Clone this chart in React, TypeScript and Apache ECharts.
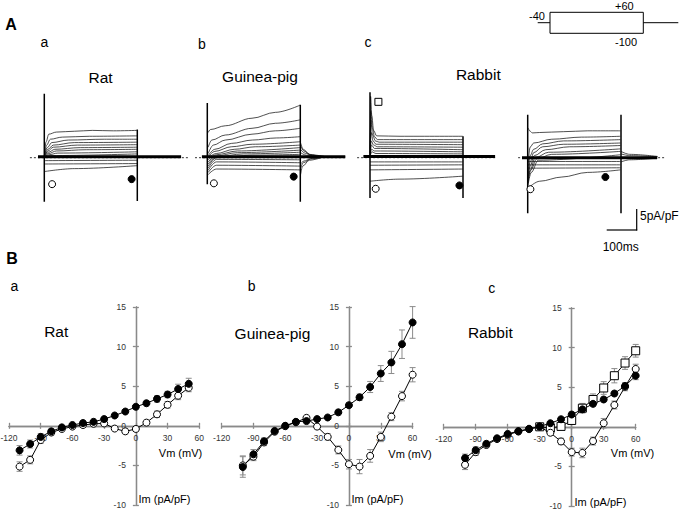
import React, { useEffect, useRef } from 'react';
import * as echarts from 'echarts';

const FONT = '"Liberation Sans", Arial, Helvetica, sans-serif';

// ---------- Panel B: I-V relations (Vm in mV, Im in pA/pF) ----------
const vmTickLabels = [-120, -90, -60, -30, 0, 30, 60];
const imTickLabels = [-10, -5, 0, 5, 10, 15];

const vmRat = [-110, -100, -90, -80, -70, -60, -50, -40, -30, -20, -10, 0, 10, 20, 30, 40, 50];
const ratClosed = [-3.1, -2.3, -1.4, -0.7, -0.2, 0.1, 0.35, 0.5, 0.85, 1.3, 1.8, 2.4, 2.85, 3.4, 3.95, 4.65, 5.3];
const ratClosedErr = [0.6, 0.5, 0.4, 0.3, 0.2, 0.2, 0.2, 0.2, 0.2, 0.2, 0.2, 0.3, 0.3, 0.4, 0.4, 0.6, 0.7];
const ratOpen = [-5.15, -4.3, -1.8, -0.85, -0.4, -0.1, 0.1, 0.25, 0.3, -0.35, -0.7, -0.4, 0.4, 1.45, 2.65, 3.8, 4.8];
const ratOpenErr = [0.6, 0.5, 0.4, 0.3, 0.2, 0.2, 0.2, 0.2, 0.2, 0.2, 0.3, 0.3, 0.3, 0.4, 0.4, 0.5, 0.5];

const vmGp = [-100, -90, -80, -70, -60, -50, -40, -30, -20, -10, 0, 10, 20, 30, 40, 50, 60];
const gpClosed = [-5.2, -3.6, -1.95, -0.65, 0.0, 0.5, 0.6, 0.85, 1.05, 1.7, 2.6, 3.6, 4.9, 6.6, 8.0, 10.3, 13.05];
const gpClosedErr = [1.3, 0.6, 0.4, 0.3, 0.3, 0.3, 0.3, 0.2, 0.2, 0.3, 0.3, 0.4, 0.7, 1.0, 1.4, 1.8, 2.0];
const gpOpen = [-5.0, -3.9, -2.1, -0.75, -0.05, 0.45, 1.0, -0.1, -1.4, -3.05, -4.85, -5.15, -3.8, -1.4, 1.15, 3.75, 6.45];
const gpOpenErr = [1.2, 0.5, 0.4, 0.3, 0.3, 0.3, 0.3, 0.3, 0.4, 0.5, 0.6, 0.9, 0.8, 0.6, 0.5, 0.6, 0.9];

const vmRb = [-100, -90, -80, -70, -60, -50, -40, -30, -20, -10, 0, 10, 20, 30, 40, 50, 60];
const rbClosed = [-3.95, -2.95, -2.15, -1.45, -0.9, -0.55, -0.25, 0.05, 0.45, 0.95, 1.55, 2.2, 2.9, 3.45, 4.2, 5.15, 6.45];
const rbClosedErr = [0.5, 0.4, 0.3, 0.2, 0.2, 0.2, 0.2, 0.2, 0.2, 0.2, 0.3, 0.3, 0.3, 0.3, 0.3, 0.4, 0.5];
const rbOpen = [-4.8, -3.2, -2.3, -1.55, -1.0, -0.6, -0.3, 0.0, -0.75, -1.85, -3.2, -3.3, -1.8, 0.45, 2.75, 5.05, 7.3];
const rbOpenErr = [0.6, 0.4, 0.3, 0.2, 0.2, 0.2, 0.2, 0.2, 0.3, 0.4, 0.5, 0.6, 0.5, 0.6, 0.5, 0.5, 0.6];
const vmRbSq = [-30, -20, -10, 0, 10, 20, 30, 40, 50, 60];
const rbSquare = [0.0, -0.15, 0.05, 0.8, 2.35, 3.45, 4.9, 6.45, 8.05, 9.6];
const rbSquareErr = [0.2, 0.2, 0.2, 0.3, 0.6, 0.7, 0.8, 0.9, 0.8, 0.8];

// ---------- Panel A: current traces ([time ms, current pA/pF]) ----------
const ratTraces = [
  [[0, 0.4], [6, 3.8], [15, 5.6], [40, 6.1], [100, 6.3], [160, 6.5], [230, 6.4], [309, 6.5]],
  [[0, 0.3], [8, 3.0], [20, 4.4], [60, 4.9], [150, 5.1], [309, 5.2]],
  [[0, 0.3], [10, 2.4], [25, 3.6], [80, 4.2], [200, 4.4], [309, 4.4]],
  [[0, 0.2], [12, 2.0], [30, 3.0], [100, 3.6], [309, 3.7]],
  [[0, 0.2], [12, 1.6], [30, 2.5], [110, 3.0], [309, 3.1]],
  [[0, 0.2], [14, 1.3], [35, 2.0], [120, 2.4], [309, 2.5]],
  [[0, 0.1], [15, 1.0], [40, 1.6], [140, 1.9], [309, 2.0]],
  [[0, 0.1], [15, 0.7], [45, 1.1], [309, 1.4]],
  [[0, 0.1], [20, 0.5], [309, 0.9]],
  [[0, -0.7], [309, -0.6]],
  [[0, -1.5], [309, -1.4]],
  [[0, -3.3], [100, -2.6], [309, -1.9]],
];
const ratBand = [[-21, 0.2], [456, 0.2]];
const ratOn = [[0, 15.2], [0, -10.5]];
const ratOff = [[310, 6.7], [310, -10.3]];
const ratOpenMark = [[26, -6.3]];
const ratClosedMark = [[291, -5.1]];

const gpTraces = [
  [[3, 6.0], [10, 6.7], [60, 7.6], [149, 9.4], [227, 10.8], [309, 12.5]],
  [[3, 2.5], [15, 4.2], [60, 5.4], [149, 7.0], [227, 8.2], [309, 9.0]],
  [[3, 1.0], [20, 3.0], [60, 4.2], [149, 5.6], [227, 6.4], [309, 7.0]],
  [[3, 0.5], [25, 2.0], [80, 3.4], [150, 4.2], [230, 4.7], [309, 5.0]],
  [[3, 0.2], [25, 1.5], [80, 2.6], [150, 3.2], [309, 3.8]],
  [[3, 0.0], [30, 1.0], [90, 2.0], [160, 2.6], [309, 3.0]],
  [[3, -0.5], [30, 0.7], [100, 1.6], [309, 2.4]],
  [[3, -1.0], [30, 0.4], [100, 1.2], [309, 1.8]],
  [[3, -1.5], [30, 0.2], [120, 0.9], [309, 1.3]],
  [[3, -2.0], [30, 0.0], [150, 0.6], [309, 0.8]],
  [[3, -2.5], [30, -0.4], [309, -0.5]],
  [[3, -3.0], [30, -1.0], [309, -1.2]],
  [[3, -3.5], [30, -1.8], [309, -2.0]],
  [[3, -4.0], [30, -2.7], [309, -2.9]],
];
const gpTails = [
  [[311, 3.5], [320, 2.0], [340, 0.8], [380, 0.3], [460, 0.2]],
  [[311, 2.8], [322, 1.6], [345, 0.7], [390, 0.3]],
  [[311, 2.0], [325, 1.1], [350, 0.5], [400, 0.2]],
  [[311, 1.2], [330, 0.6], [370, 0.2]],
  [[311, -1.5], [322, -0.8], [345, -0.2], [380, 0.1]],
  [[311, -2.5], [320, -1.2], [345, -0.3], [380, 0.1]],
  [[311, -4.0], [318, -2.0], [340, -0.6], [380, 0.0]],
];
const gpBand = [[-18, 0.2], [460, 0.2]];
const gpOn = [[0, 13.0], [0, -6.3]];
const gpOff = [[310, 12.6], [310, -10.5]];
const gpOpenMark = [[22, -6.1]];
const gpClosedMark = [[288, -4.5]];

const rb1Traces = [
  [[0, 2], [2, 14.6], [6, 10], [12, 6.5], [22, 5.2], [100, 5.1], [309, 5.1]],
  [[0, 1], [3, 11], [8, 7], [15, 5], [25, 4.3], [309, 4.3]],
  [[0, 1], [3, 9], [8, 5.5], [18, 4], [30, 3.7], [309, 3.7]],
  [[0, 0.5], [4, 6], [10, 4], [20, 3.2], [309, 3.1]],
  [[0, 0.5], [4, 4], [12, 3], [25, 2.6], [309, 2.5]],
  [[0, 0.3], [5, 3], [15, 2.2], [309, 1.9]],
  [[0, 0.2], [5, 2], [15, 1.6], [309, 1.4]],
  [[0, 0.2], [6, 1.4], [20, 1.0], [309, 0.9]],
  [[0, -1.0], [309, -1.0]],
  [[0, -1.8], [309, -1.7]],
  [[0, -2.9], [309, -2.7]],
  [[0, -5.6], [100, -5.1], [309, -4.4]],
];
const rb1Band = [[-22, 0.3], [417, 0.3]];
const rb1On = [[0, 15.6], [0, -9.6]];
const rb1Off = [[310, 5.1], [310, -9.6]];
const rb1SquareMark = [[28, 13.3]];
const rb1OpenMark = [[19, -7.4]];
const rb1ClosedMark = [[298, -6.6]];

const rb2Traces = [
  [[1, 7.1], [8, 6.3], [16, 5.9], [40, 6.0], [120, 6.2], [200, 6.4], [309, 6.4]],
  [[1, -2], [8, 2.5], [20, 3.5], [80, 4.4], [180, 4.9], [309, 5.1]],
  [[1, -4], [8, 0.5], [20, 2.0], [50, 3.3], [120, 4.0], [309, 4.3]],
  [[1, -5], [8, -1], [20, 1.2], [50, 2.6], [120, 3.2], [309, 3.5]],
  [[1, -5.5], [8, -2], [22, 0.5], [60, 1.9], [140, 2.6], [309, 2.9]],
  [[1, -6], [8, -3], [25, 0], [70, 1.3], [309, 2.1]],
  [[1, -6], [10, -3], [30, -0.3], [80, 0.8], [309, 1.5]],
  [[1, -6.5], [12, -3.5], [35, -0.6], [309, 0.7]],
  [[0, -0.9], [309, -0.9]],
  [[0, -1.7], [309, -1.7]],
  [[0, -2.5], [309, -2.4]],
  [[2, -7.2], [40, -5.6], [114, -4.6], [200, -3.5], [309, -2.9]],
];
const rb2Tails = [
  [[311, 1.5], [340, 0.8], [433, 0.3]],
  [[311, 0.9], [340, 0.5], [433, 0.2]],
  [[311, -1.0], [340, -0.5], [433, -0.1]],
];
const rb2Band = [[-19, 0.0], [431, 0.0]];
const rb2On = [[0, 10.2], [0, -13.2]];
const rb2Off = [[311, 10.2], [311, -13.2]];
const rb2OpenMark = [[9, -7.5]];
const rb2ClosedMark = [[259, -4.6]];

const baselineSpan = [
  [[-48, 0], [485, 0]],
  [[-41, 0], [465, 0]],
  [[-43, 0], [423, 0]],
  [[-32, 0], [455, 0]],
];

// ---------- layout ----------
const A_LEFTS = [26.3, 189.3, 352, 509.7];
const A_TOP = 52.7;
const A_SIZE = 168;
const B_GRIDS = [
  { left: 9, top: 307, width: 190.3, height: 198 },
  { left: 221.6, top: 307, width: 191, height: 198 },
  { left: 443.7, top: 308, width: 192, height: 198 },
];
const AX = '#8a8a8a';

function traceLine(g: number, data: number[][], width = 0.75, color = '#151515', smooth = true) {
  return {
    type: 'line', xAxisIndex: g, yAxisIndex: g, data, symbol: 'none', showSymbol: false,
    smooth: smooth ? 0.35 : false, smoothMonotone: smooth ? 'x' : undefined,
    lineStyle: { color, width }, silent: true, z: 2,
  };
}
function marker(g: number, data: number[][], kind: string) {
  return {
    type: 'scatter', xAxisIndex: g, yAxisIndex: g, data,
    symbol: kind === 'square' ? 'rect' : 'circle', symbolSize: 7,
    itemStyle: { color: kind === 'closed' ? '#000' : '#fff', borderColor: '#000', borderWidth: 1, opacity: 1 },
    silent: true, z: 5,
  };
}
function ivSeries(g: number, xs: number[], ys: number[], kind: string) {
  return {
    type: 'line', xAxisIndex: g, yAxisIndex: g, data: xs.map((x, i) => [x, ys[i]]),
    symbol: kind === 'square' ? 'rect' : 'circle', symbolSize: kind === 'square' ? 8 : 7, showSymbol: true,
    lineStyle: { color: '#000', width: 1 },
    itemStyle: { color: kind === 'closed' ? '#000' : '#fff', borderColor: '#000', borderWidth: 1 },
    silent: true, z: 4,
  };
}
function errSeries(g: number, xs: number[], ys: number[], es: number[]) {
  return {
    type: 'custom', xAxisIndex: g, yAxisIndex: g, data: xs.map((x, i) => [x, ys[i], es[i]]),
    encode: { x: 0, y: 1 }, silent: true, z: 1,
    renderItem: (params: any, api: any) => {
      const x = api.value(0), y = api.value(1), e = api.value(2);
      const p1 = api.coord([x, y + e]);
      const p2 = api.coord([x, y - e]);
      const w = 3;
      const st = { stroke: '#8c8c8c', lineWidth: 1 };
      return {
        type: 'group', children: [
          { type: 'line', shape: { x1: p1[0], y1: p1[1], x2: p2[0], y2: p2[1] }, style: st },
          { type: 'line', shape: { x1: p1[0] - w, y1: p1[1], x2: p1[0] + w, y2: p1[1] }, style: st },
          { type: 'line', shape: { x1: p2[0] - w, y1: p2[1], x2: p2[0] + w, y2: p2[1] }, style: st },
        ],
      };
    },
  };
}

function txt(x: number, y: number, text: string, fontSize: number, align = 'center', bold = false, fill = '#000') {
  return {
    type: 'text', x, y, silent: true, z: 10,
    style: { text, fontSize, fontFamily: FONT, fontWeight: bold ? 'bold' : 'normal', fill, align, verticalAlign: 'middle' },
  };
}
function gline(x1: number, y1: number, x2: number, y2: number, w = 1) {
  return { type: 'line', silent: true, z: 10, shape: { x1, y1, x2, y2 }, style: { stroke: '#000', lineWidth: w } };
}

function buildOption() {
  const grid: any[] = [];
  const xAxis: any[] = [];
  const yAxis: any[] = [];
  const series: any[] = [];

  A_LEFTS.forEach((left, i) => {
    grid.push({ left, top: A_TOP, width: A_SIZE, height: A_SIZE, outerBoundsMode: 'none' });
    xAxis.push({ gridIndex: i, type: 'value', min: -60, max: 500, show: false });
    yAxis.push({ gridIndex: i, type: 'value', min: -15, max: 25, show: false });
  });

  const vmMin = vmTickLabels[0], vmMax = vmTickLabels[vmTickLabels.length - 1], vmStep = vmTickLabels[1] - vmTickLabels[0];
  const imMin = imTickLabels[0], imMax = imTickLabels[imTickLabels.length - 1], imStep = imTickLabels[1] - imTickLabels[0];
  const fx = (0 - vmMin) / (vmMax - vmMin); // fraction of width left of Vm = 0
  const fy = (0 - imMin) / (imMax - imMin); // fraction of height below Im = 0
  const lineSt = { color: AX, width: 1.3 };
  const lbl = { show: true, fontSize: 8.5, color: '#333', fontFamily: FONT };

  B_GRIDS.forEach((g) => grid.push({ ...g, outerBoundsMode: 'none' }));
  // main axes: crossing at the origin, ticks outward, with labels
  B_GRIDS.forEach((g, k) => {
    xAxis.push({
      gridIndex: 4 + k, type: 'value', min: vmMin, max: vmMax, interval: vmStep, position: 'bottom',
      offset: -g.height * fy,
      axisLine: { show: true, onZero: false, lineStyle: lineSt },
      axisTick: { show: true, length: 3, lineStyle: lineSt },
      axisLabel: { ...lbl, margin: 8 },
      splitLine: { show: false },
    });
    yAxis.push({
      gridIndex: 4 + k, type: 'value', min: imMin, max: imMax, interval: imStep, position: 'left',
      offset: -g.width * fx,
      axisLine: { show: true, onZero: false, lineStyle: lineSt },
      axisTick: { show: true, length: 3, lineStyle: lineSt },
      axisLabel: { ...lbl, margin: 10 },
      splitLine: { show: false },
    });
  });
  // twin axes on the same lines: ticks on the other side, no labels
  B_GRIDS.forEach((g, k) => {
    xAxis.push({
      gridIndex: 4 + k, type: 'value', min: vmMin, max: vmMax, interval: vmStep, position: 'top',
      offset: -g.height * (1 - fy),
      axisLine: { show: true, onZero: false, lineStyle: lineSt },
      axisTick: { show: true, length: 3, lineStyle: lineSt },
      axisLabel: { show: false }, splitLine: { show: false },
    });
    yAxis.push({
      gridIndex: 4 + k, type: 'value', min: imMin, max: imMax, interval: imStep, position: 'right',
      offset: -g.width * (1 - fx),
      axisLine: { show: true, onZero: false, lineStyle: lineSt },
      axisTick: { show: true, length: 3, lineStyle: lineSt },
      axisLabel: { show: false }, splitLine: { show: false },
    });
  });

  const panels = [
    { traces: ratTraces, tails: [] as number[][][], band: ratBand, on: ratOn, off: ratOff, marks: [[ratOpenMark, 'open'], [ratClosedMark, 'closed']] },
    { traces: gpTraces, tails: gpTails, band: gpBand, on: gpOn, off: gpOff, marks: [[gpOpenMark, 'open'], [gpClosedMark, 'closed']] },
    { traces: rb1Traces, tails: [] as number[][][], band: rb1Band, on: rb1On, off: rb1Off, marks: [[rb1SquareMark, 'square'], [rb1OpenMark, 'open'], [rb1ClosedMark, 'closed']] },
    { traces: rb2Traces, tails: rb2Tails, band: rb2Band, on: rb2On, off: rb2Off, marks: [[rb2OpenMark, 'open'], [rb2ClosedMark, 'closed']] },
  ];
  panels.forEach((p, i) => {
    series.push({ ...traceLine(i, baselineSpan[i], 0.8, '#000', false), lineStyle: { color: '#000', width: 0.8, type: [2, 2] }, z: 1 });
    p.traces.forEach((t) => series.push(traceLine(i, t)));
    p.tails.forEach((t) => series.push(traceLine(i, t)));
    series.push(traceLine(i, p.band, 3, '#000', false));
    series.push(traceLine(i, p.on, 1.5, '#000', false));
    series.push(traceLine(i, p.off, 1.5, '#000', false));
    p.marks.forEach((m: any) => series.push(marker(i, m[0], m[1])));
  });

  series.push(errSeries(4, vmRat, ratOpen, ratOpenErr));
  series.push(errSeries(4, vmRat, ratClosed, ratClosedErr));
  series.push(ivSeries(4, vmRat, ratOpen, 'open'));
  series.push(ivSeries(4, vmRat, ratClosed, 'closed'));

  series.push(errSeries(5, vmGp, gpOpen, gpOpenErr));
  series.push(errSeries(5, vmGp, gpClosed, gpClosedErr));
  series.push(ivSeries(5, vmGp, gpOpen, 'open'));
  series.push(ivSeries(5, vmGp, gpClosed, 'closed'));

  series.push(errSeries(6, vmRbSq, rbSquare, rbSquareErr));
  series.push(errSeries(6, vmRb, rbOpen, rbOpenErr));
  series.push(errSeries(6, vmRb, rbClosed, rbClosedErr));
  series.push(ivSeries(6, vmRbSq, rbSquare, 'square'));
  series.push(ivSeries(6, vmRb, rbOpen, 'open'));
  series.push(ivSeries(6, vmRb, rbClosed, 'closed'));

  const graphic: any[] = [
    txt(11, 24, 'A', 16, 'center', true),
    txt(44.5, 41.5, 'a', 14),
    txt(202, 44, 'b', 14),
    txt(368, 42, 'c', 14),
    txt(100.5, 77, 'Rat', 15.5),
    txt(260, 76, 'Guinea-pig', 15.5),
    txt(478.3, 74, 'Rabbit', 15.5),
    gline(537.7, 22.7, 550, 22.7),
    { type: 'rect', silent: true, z: 10, shape: { x: 550, y: 12.3, width: 93.3, height: 21 }, style: { fill: 'none', stroke: '#000', lineWidth: 1 } },
    gline(643.3, 22.7, 678.3, 22.7),
    txt(529, 16, '-40', 11, 'left'),
    txt(615, 6, '+60', 11, 'left'),
    txt(615, 41.7, '-100', 11, 'left'),
    gline(636.7, 209, 636.7, 230.5, 1.2),
    gline(606.7, 230, 637.2, 230, 1.2),
    txt(640, 216, '5pA/pF', 12, 'left'),
    txt(620.7, 246.7, '100ms', 12),
    txt(12, 258.5, 'B', 16, 'center', true),
    txt(14.5, 286, 'a', 14),
    txt(251.7, 286, 'b', 14),
    txt(491.7, 288, 'c', 14),
    txt(56.2, 331.7, 'Rat', 15.5),
    txt(272.5, 333, 'Guinea-pig', 15.5),
    txt(490.3, 332.7, 'Rabbit', 15.5),
    txt(180.5, 453, 'Vm (mV)', 11),
    txt(410, 454.3, 'Vm (mV)', 11),
    txt(632.5, 453.3, 'Vm (mV)', 11),
    txt(138.5, 499, 'Im (pA/pF)', 11, 'left'),
    txt(351.5, 499.3, 'Im (pA/pF)', 11, 'left'),
    txt(574.5, 501.7, 'Im (pA/pF)', 11, 'left'),
  ];

  return { animation: false, backgroundColor: '#fff', grid, xAxis, yAxis, series, graphic };
}

export default function App() {
  const ref = useRef<HTMLDivElement>(null);
  useEffect(() => {
    if (!ref.current) return;
    const chart = echarts.init(ref.current, undefined, { renderer: 'svg' });
    chart.setOption(buildOption() as any);
    return () => chart.dispose();
  }, []);
  return (
    <div
      ref={ref}
      style={{ position: 'fixed', left: 0, top: 0, width: 685, height: 513, background: '#fff' }}
    />
  );
}
